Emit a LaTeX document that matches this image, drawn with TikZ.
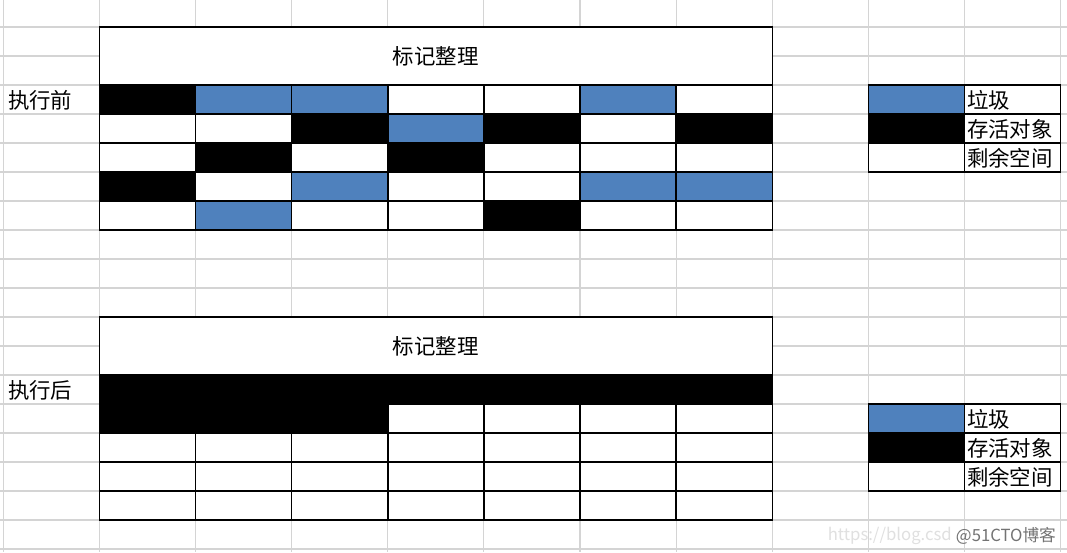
\documentclass[tikz,border=0pt]{standalone}
\usepackage{fontspec}
\setmainfont{Noto Sans CJK SC}
\usetikzlibrary{positioning}
\definecolor{gcblue}{RGB}{79,129,189}
\definecolor{sheetgray}{RGB}{212,212,212}
\tikzset{font=\fontsize{12.2}{14}\selectfont}

\begin{document}
\begin{tikzpicture}[x=0.02cm, y=-0.02cm]
	\tikzstyle{gridline}=[draw=sheetgray, line width=0.6pt]
	\tikzstyle{cell}=[draw=black, line width=0.8pt]
	\tikzstyle{every node}=[inner sep=1pt]
	\fill[white] (0,0) rectangle (1067,552);
	\useasboundingbox (0,0) rectangle (1067,552);

	% spreadsheet grid
	\foreach \k in {-1,...,10}
		\draw[gridline] (99.5+96.1*\k,0) -- (99.5+96.1*\k,552);
	\foreach \k in {-1,...,18}
		\draw[gridline] (0,27+29*\k) -- (1067,27+29*\k);

	% before
	\draw[cell, fill=white] (99.5,27) rectangle (772.2,85);
	\node (title1) at (435.8,56) {标记整理};
	\node[anchor=west] (before) at (6,100) {执行前};
	\foreach \row [count=\i from 0] in {
		{black,gcblue,gcblue,white,white,gcblue,white},
		{white,white,black,gcblue,black,white,black},
		{white,black,white,black,white,white,white},
		{black,white,gcblue,white,white,gcblue,gcblue},
		{white,gcblue,white,white,black,white,white}}
		\foreach \c [count=\j from 0] in \row
			\draw[cell, fill=\c] (99.5+96.1*\j,85+29*\i) rectangle ++(96.1,29);

	% after
	\draw[cell, fill=white] (99.5,317) rectangle (772.2,375);
	\node (title2) at (435.8,346) {标记整理};
	\node[anchor=west] (after) at (6,390) {执行后};
	\draw[cell, fill=black] (99.5,375) rectangle (772.2,404);
	\draw[cell, fill=black] (99.5,404) rectangle (387.8,433);
	\foreach \j in {3,...,6}
		\draw[cell, fill=white] (99.5+96.1*\j,404) rectangle ++(96.1,29);
	\foreach \i in {2,3,4}
		\foreach \j in {0,...,6}
			\draw[cell, fill=white] (99.5+96.1*\j,375+29*\i) rectangle ++(96.1,29);

	% legends
	\foreach \y/\s in {85/a, 404/b} {
		\draw[cell, fill=gcblue] (868.3,\y) rectangle ++(96.1,29);
		\draw[cell, fill=black] (868.3,\y+29) rectangle ++(96.1,29);
		\draw[cell, fill=white] (868.3,\y+58) rectangle ++(96.1,29);
		\draw[cell, fill=white] (964.4,\y) rectangle ++(96.1,29);
		\draw[cell, fill=white] (964.4,\y+29) rectangle ++(96.1,29);
		\draw[cell, fill=white] (964.4,\y+58) rectangle ++(96.1,29);
		\node[anchor=west] (garbage\s) at (965,\y+15) {垃圾};
		\node[anchor=west] (alive\s) at (965,\y+44) {存活对象};
		\node[anchor=west] (free\s) at (965,\y+73) {剩余空间};
	}

	% watermark
	\node[anchor=east, text=black!55, font=\fontsize{9.5}{11}\selectfont] (mark) at (1058,536) {@51CTO博客};
	\node[anchor=east, text=black!12, font=\fontsize{9.5}{11}\selectfont] (url) at (mark.west) {https://blog.csd};
\end{tikzpicture}
\end{document}
